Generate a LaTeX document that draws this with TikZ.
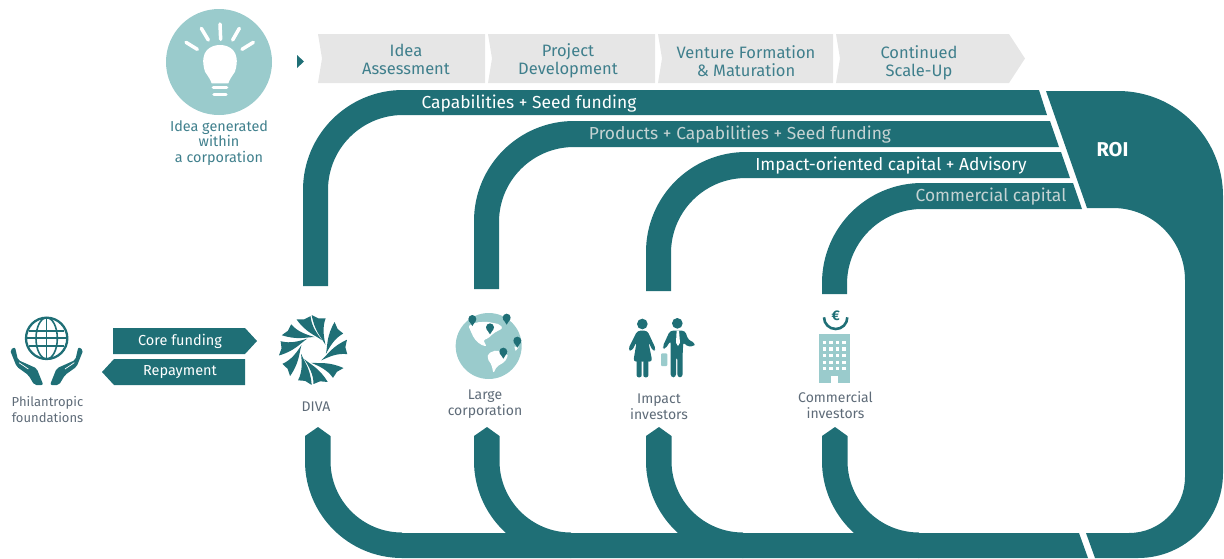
\documentclass[tikz,border=0pt]{standalone}
\usepackage{fontspec}
\setmainfont{Fira Sans}
\usepackage{tikz}

\definecolor{bandteal}{HTML}{1F6F76}
\definecolor{iconlight}{HTML}{9ACBCC}
\definecolor{stagegray}{HTML}{E6E6E6}
\definecolor{stagetext}{HTML}{3F7F8C}
\definecolor{icontext}{HTML}{5E6B78}
\definecolor{dimlabel}{HTML}{C5D3D3}

% arm coming up from the bottom band, #1 = left edge
\newcommand{\returnarm}[1]{
	\fill[band] (#1,436) -- (#1+13,427) -- (#1+25.5,436) -- (#1+25.5,461)
		arc[start angle=180,end angle=90,radius=71.5] -- (#1+97,558)
		arc[start angle=90,end angle=180,radius=97] -- cycle;
}
% open hand, drawn in the coordinates of the left one
\newcommand{\openhand}[1]{
	\begin{scope}[#1]
		\fill[band,rounded corners=2] (15,120) -- (30,111) -- (39,150) -- (95,175) -- (115,225) -- (88,225) -- (70,195) -- (35,170) -- cycle;
		\draw[white,line width=0.7] (42,158) -- (70,177);
	\end{scope}
}
\newcommand{\mappin}[2]{
	\fill[band] (#1,#2) circle[radius=12];
	\fill[band] (#1-11,#2+4) -- (#1,#2+21) -- (#1+11,#2+4) -- cycle;
}

\begin{document}
\begin{tikzpicture}[x=1pt,y=-1pt,
	band/.style={fill=bandteal},
	stagebox/.style={fill=stagegray},
	stagelabel/.style={text=stagetext,align=center,font=\fontsize{16.5}{18}\selectfont},
	iconlabel/.style={text=icontext,align=center,font=\fontsize{14}{16}\selectfont},
	bandlabel/.style={text=white,font=\fontsize{17.4}{18}\selectfont},
	dimband/.style={bandlabel,text=dimlabel},
	arrowlabel/.style={text=white,font=\fontsize{14.5}{16}\selectfont}]
	\useasboundingbox (0,0) rectangle (1224,558);
	%% Stages
	\fill[band] (297,55) -- (304,61.5) -- (297,68) -- cycle;
	\fill[stagebox] (318,34) -- (485,34) -- (485,83) -- (318,83) -- (322,58.5) -- cycle;
	\fill[stagebox] (488,34) -- (655,34) -- (655,83) -- (488,83) -- (492,58.5) -- cycle;
	\fill[stagebox] (658,34) -- (833,34) -- (833,83) -- (658,83) -- (662,58.5) -- cycle;
	\fill[stagebox] (836,34) -- (1009,34) -- (1025,58.5) -- (1009,83) -- (836,83) -- (840,58.5) -- cycle;
	\node[stagelabel] (assessment) at (406,59.5) {Idea\\Assessment};
	\node[stagelabel] (development) at (568,60.5) {Project\\Development};
	\node[stagelabel] (formation) at (746,61.5) {Venture Formation\\\& Maturation};
	\node[stagelabel] (scaleup) at (919,62.5) {Continued\\Scale-Up};
	%% Outgoing bands
	\fill[band] (303,286) -- (303,190) arc[start angle=180,end angle=270,radius=100] -- (1039,90) -- (1047,115) -- (403,115) arc[start angle=270,end angle=180,radius=75] -- (328,286) -- cycle;
	\fill[band] (474,289) -- (474,221) arc[start angle=180,end angle=270,radius=100] -- (1050,121) -- (1059,147) -- (574,147) arc[start angle=270,end angle=180,radius=75] -- (499,289) -- cycle;
	\fill[band] (646,291) -- (646,252) arc[start angle=180,end angle=270,radius=100] -- (1061,152) -- (1070,178) -- (746,178) arc[start angle=270,end angle=180,radius=75] -- (671,291) -- cycle;
	\fill[band] (822,294) -- (822,283) arc[start angle=180,end angle=270,radius=100] -- (1073,183) -- (1082,209) -- (922,209) arc[start angle=270,end angle=180,radius=75] -- (847,294) -- cycle;
	\node[bandlabel] (seedfunding) at (529,104) {Capabilities + Seed funding};
	\node[dimband] (products) at (740,135) {Products + Capabilities + Seed funding};
	\node[bandlabel] (advisory) at (891,166) {Impact-oriented capital + Advisory};
	\node[dimband] (commercial) at (991,197) {Commercial capital};
	%% ROI
	\fill[band] (1046,91) -- (1118,91) arc[start angle=270,end angle=360,radius=105] -- (1223,473)
		arc[start angle=0,end angle=90,radius=85] -- (1095,558) -- (1086,533) -- (1129,533)
		arc[start angle=90,end angle=0,radius=56] -- (1185,280)
		arc[start angle=0,end angle=-90,radius=72] -- (1087,208) -- cycle;
	\node[text=white,font=\fontsize{20}{22}\selectfont\bfseries] (roi) at (1112.5,150) {ROI};
	%% Return bands
	\fill[band] (402,533) -- (1079,533) -- (1088,558) -- (402,558) -- cycle;
	\returnarm{305}
	\returnarm{474}
	\returnarm{646}
	\returnarm{822}
	%% Core funding
	\fill[band] (113,328) -- (245,328) -- (257,341) -- (245,354) -- (113,354) -- cycle;
	\fill[band] (245,359) -- (245,385) -- (114,385) -- (102,372) -- (114,359) -- cycle;
	\node[arrowlabel] (corefunding) at (180,341) {Core funding};
	\node[arrowlabel] (repayment) at (180,372) {Repayment};
	%% Idea
	\fill[iconlight] (219,62) circle[radius=53];
	\begin{scope}[shift={(150,0)},scale=0.3333]
		\fill[white] (165,215) .. controls (145,150) and (185,135) .. (210,135) .. controls (235,135) and (275,150) .. (255,215) .. controls (245,230) and (238,240) .. (235,250) -- (185,250) .. controls (182,240) and (175,230) .. (165,215) -- cycle;
		\draw[white,line width=3.5,line cap=round] (108,127) -- (142,148);
		\draw[white,line width=3.5,line cap=round] (154,85) -- (175,120);
		\draw[white,line width=3.5,line cap=round] (210,72) -- (212,118);
		\draw[white,line width=3.5,line cap=round] (268,85) -- (248,120);
		\draw[white,line width=3.5,line cap=round] (310,127) -- (276,148);
		\draw[white,line width=3.5,line cap=round] (190,263) -- (230,263);
		\draw[white,line width=3.5,line cap=round] (192,283) -- (228,283);
	\end{scope}
	\node[text=stagetext,align=center,font=\fontsize{14.4}{15.5}\selectfont] (ideatext) at (219,143) {Idea generated\\within\\a corporation};
	%% Philantropic foundations
	\begin{scope}[shift={(5,310)},scale=0.3333]
		\draw[bandteal,line width=2.3] (125,85) circle[radius=62];
		\draw[bandteal,line width=1.6] (125,85) ellipse[x radius=32,y radius=62];
		\draw[bandteal,line width=1.6] (125,23) -- (125,147);
		\draw[bandteal,line width=2] (72,62) -- (178,62);
		\draw[bandteal,line width=2] (66,85) -- (184,85);
		\draw[bandteal,line width=2] (72,108) -- (178,108);
		\openhand{}
		\openhand{xshift=250,xscale=-1}
	\end{scope}
	\node[iconlabel,font=\fontsize{13}{15.5}\selectfont] (philantropic) at (47.5,409.5) {Philantropic\\foundations};
	%% DIVA
	\foreach \a in {-143,-107,-81,-41,-5,43,78,105,144,-177}{
		\fill[band,shift={(313.5,350)}] (\a-12:35) -- (\a:32) -- (\a+12:34) .. controls (\a+12:24) and (\a+28:17) .. (\a+58:13) .. controls (\a+22:15) and (\a-6:19) .. (\a-12:35) -- cycle;
	}
	\node[iconlabel] (diva) at (316,407) {DIVA};
	%% Large corporation
	\begin{scope}[shift={(450,305)},scale=0.3333]
		\fill[iconlight] (116,123) circle[radius=99];
		\fill[white,rounded corners=2] (55,62) -- (80,52) -- (110,50) -- (150,58) -- (158,70) -- (130,85) -- (115,100) -- (100,105) -- (110,125) -- (90,118) -- (72,100) -- (62,78) -- cycle;
		\fill[white,rounded corners=2] (115,145) -- (140,135) -- (175,150) -- (165,170) -- (140,185) -- (130,205) -- (125,180) -- (112,160) -- cycle;
		\fill[white] (193,125) -- (207,125) -- (197,138) -- cycle;
		\mappin{67}{42}
		\mappin{170}{38}
		\mappin{120}{67}
		\mappin{202}{107}
		\mappin{160}{140}
	\end{scope}
	\node[iconlabel] (corporation) at (485,404) {Large\\corporation};
	%% Impact investors
	\begin{scope}[shift={(620,310)},scale=0.3333]
		\fill[band] (67,42) circle[radius=16];
		\fill[band,rounded corners=3] (52,62) -- (82,62) -- (108,118) -- (99,124) -- (85,95) -- (97,155) -- (40,155) -- (50,95) -- (35,124) -- (24,118) -- cycle;
		\fill[band,rounded corners=2] (50,150) rectangle (65,202);
		\fill[band,rounded corners=2] (70,150) rectangle (85,202);
		\fill[band] (172,40) circle[radius=16];
		\fill[band,rounded corners=3] (150,62) -- (195,62) -- (205,90) -- (225,98) -- (222,110) -- (198,108) -- (190,95) -- (188,130) -- (188,202) -- (172,202) -- (172,140) -- (168,140) -- (168,202) -- (152,202) -- (152,92) -- (135,118) -- (127,112) -- cycle;
		\fill[white] (170,62) -- (177,62) -- (180,98) -- (174,108) -- (168,98) -- cycle;
		\fill[iconlight,rounded corners=1] (123,130) rectangle (142,168);
	\end{scope}
	\node[iconlabel] (impact) at (659,406.5) {Impact\\investors};
	%% Commercial investors
	\begin{scope}[shift={(800,300)},scale=0.3333]
		\draw[bandteal,line width=2.6] (72,52) arc[start angle=180,end angle=0,radius=35];
		\fill[iconlight] (58,102) rectangle (150,250);
		\draw[white,line width=3.4,dash pattern=on 3.4 off 3.2] (68,127) -- (140,127);
		\draw[white,line width=3.4,dash pattern=on 3.4 off 3.2] (68,147) -- (140,147);
		\draw[white,line width=3.4,dash pattern=on 3.4 off 3.2] (68,167) -- (140,167);
		\draw[white,line width=3.4,dash pattern=on 3.4 off 3.2] (68,187) -- (140,187);
		\draw[white,line width=3.4,dash pattern=on 3.4 off 3.2] (68,205) -- (140,205);
		\fill[white] (94,228) rectangle (115,250);
		\node[text=bandteal,font=\fontsize{14}{14}\selectfont\bfseries] (euro) at (107,46) {€};
	\end{scope}
	\node[iconlabel] (investors) at (835.5,405.5) {Commercial\\investors};
\end{tikzpicture}
\end{document}
